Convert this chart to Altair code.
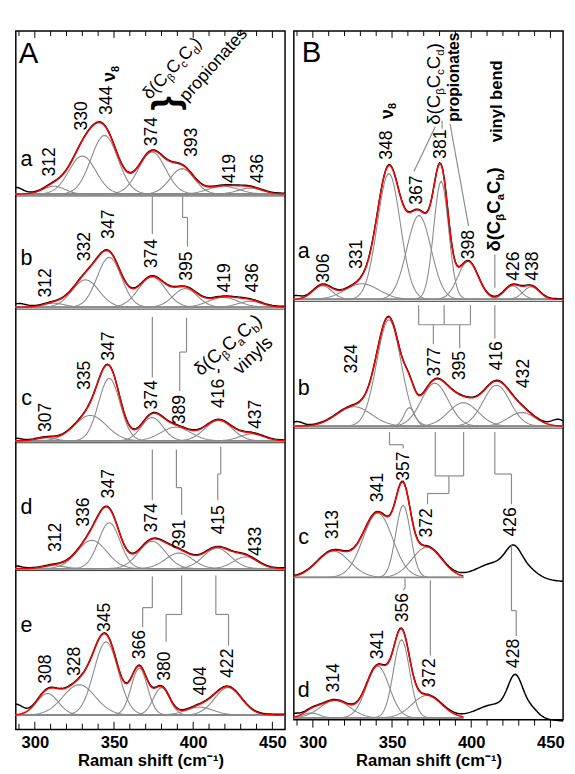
import numpy as np
import pandas as pd
import altair as alt

FONT = "Liberation Sans"
XMIN, XMAX = 288, 458
W = 276
HA, HB = 716, 706
KX = W / (XMAX - XMIN)

MAJOR_TICKS = [300, 350, 400, 450]
MINOR_TICKS = [290, 310, 320, 330, 340, 360, 370, 380, 390, 410, 420, 430, 440]

# ---------------- column A : fitted bands (centre cm-1, height, FWHM) ----------------
A_BASE = {"a": 549, "b": 433, "c": 296, "d": 165, "e": 15}
A_a_bands = [(312, 8, 16), (330, 39, 20), (344, 60, 20), (374, 43, 20), (393, 26, 18), (419, 8, 22), (436, 6, 18)]
A_b_bands = [(312, 4, 16), (332, 28, 20), (347, 51, 18), (374, 31, 20), (395, 19, 18), (419, 10, 22), (436, 6, 18)]
A_c_bands = [(307, 3, 14), (335, 26, 24), (347, 64, 16), (374, 24, 16), (389, 14, 22), (416, 21, 20), (437, 7, 18)]
A_d_bands = [(312, 3, 16), (336, 29, 22), (347, 47, 16), (374, 28, 20), (391, 16, 20), (415, 21, 20), (433, 12, 18)]
A_e_bands = [(308, 22, 16), (328, 31, 24), (345, 75, 18), (366, 48, 12), (380, 28, 12), (404, 8, 20), (422, 28, 20)]
A_a_extra = [(288, 6, 10)]
A_b_extra = [(290, 3, 10)]
A_c_extra = [(288, 2, 8)]
A_d_extra = [(288, 2, 8)]
A_e_extra = [(288, 10, 10)]

# ---------------- column B ----------------
B_BASE = {"a": 431, "b": 301, "c": 146, "d": 2}
B_a_bands = [(306, 14, 14), (331, 16, 25), (348, 129, 17), (367, 86, 18), (381, 121, 11), (398, 39, 15), (426, 14, 12), (438, 13, 12)]
B_b_bands = [(326, 20, 26), (348, 109, 18), (361, 19, 8), (377, 44, 20), (395, 24, 22), (416, 42, 20), (432, 14, 20)]
B_c_bands = [(313, 27, 24), (341, 66, 22), (357, 74, 11), (372, 31, 22)]
B_d_bands = [(299, 5, 12), (314, 18, 22), (341, 53, 17), (356, 80, 12), (372, 23, 22)]
B_a_extra = [(289, 3, 8)]
B_b_extra = [(290, 4, 8), (455, 6, 10)]
B_c_extra = [(415, 14, 26), (427, 24, 12), (437, 6, 12), (462, -5, 30)]
B_d_extra = [(288, 3, 8), (415, 13, 26), (428, 37, 11), (438, 8, 10), (462, -4, 30)]
B_FIT_END = 395

# ---------------- peak labels (text, x, y) ----------------
A_labels = [
    ("312", 309.6, 582), ("330", 329.9, 629), ("344", 345.4, 645), ("374", 374.2, 613),
    ("393", 399.5, 602), ("419", 423.5, 575), ("436", 440.8, 575),
    ("312", 307.1, 458), ("332", 331.7, 495), ("347", 347.1, 518), ("374", 374.2, 488),
    ("395", 396.4, 475), ("419", 420.4, 463), ("436", 437.7, 463),
    ("307", 307.1, 320), ("335", 331.7, 363), ("347", 347.1, 393), ("374", 374.2, 343),
    ("389", 391.5, 328), ("416 -", 416.1, 350), ("437", 439.5, 323),
    ("312", 313.3, 197), ("336", 331.1, 223), ("347", 347.1, 252), ("374", 374.2, 217),
    ("391", 391.5, 200), ("415", 416.1, 215), ("433", 439.5, 193),
    ("308", 307.1, 62), ("328", 325.6, 70), ("345", 344.1, 115), ("366", 366.2, 87),
    ("380", 382.2, 65), ("404", 405.0, 50), ("422", 422.3, 68),
]
B_labels = [
    ("306", 307.1, 463), ("331", 328.0, 477), ("348", 347.1, 589), ("367", 365.6, 543),
    ("381", 381.0, 590), ("398", 398.9, 487), ("426", 427.2, 465), ("438", 438.9, 465),
    ("324", 325.0, 370), ("377", 377.3, 367), ("395", 393.3, 363), ("416", 416.1, 373),
    ("432", 433.4, 355),
    ("313", 312.6, 200), ("341", 341.0, 238), ("357", 357.6, 260), ("372", 372.4, 202),
    ("426", 425.4, 203),
    ("314", 313.3, 43), ("341", 341.0, 77), ("356", 357.0, 115), ("372", 374.2, 48),
    ("428", 427.2, 68),
]
A_letters = [("A", 296.0, 692, 30), ("a", 294.8, 585, 22), ("b", 294.8, 483, 22),
             ("c", 294.8, 340, 22), ("d", 294.8, 228, 22), ("e", 294.8, 107, 22)]
B_letters = [("B", 299.1, 683, 30), ("a", 294.2, 480, 22), ("b", 294.2, 340, 22),
             ("c", 294.2, 187, 22), ("d", 294.2, 30, 22)]

# ---------------- connector polylines ----------------
A_links = [
    [(374.2, 547), (374.2, 508)],
    [(393.3, 547), (393.3, 525), (396.4, 525), (396.4, 495)],
    [(374.2, 423), (374.2, 361)],
    [(395.8, 422), (395.8, 387), (391.5, 387), (391.5, 347)],
    [(374.2, 287), (374.2, 235)],
    [(389.4, 287), (389.4, 248), (392.7, 248), (392.7, 220)],
    [(417.4, 290), (417.4, 262), (415.5, 262), (415.5, 235)],
    [(374.2, 157), (374.2, 125), (368.1, 125), (368.1, 105)],
    [(392.7, 158), (392.7, 118), (382.9, 118), (382.9, 90)],
    [(414.3, 158), (414.3, 118), (422.3, 118), (422.3, 86)],
]
B_links = [
    [(363.8, 562), (377.3, 608)],
    [(381.6, 606), (381.6, 614)],
    [(386.6, 611), (398.3, 506)],
    [(414.9, 477), (414.9, 443)],
    [(366.8, 425), (366.8, 405)], [(382.9, 425), (382.9, 405)], [(399.5, 425), (399.5, 405)],
    [(366.8, 405), (399.5, 405)],
    [(376.1, 405), (376.1, 385)], [(392.7, 405), (392.7, 381)],
    [(414.9, 425), (414.9, 391)],
    [(348.4, 295), (348.4, 282), (357.0, 282), (357.0, 278)],
    [(377.3, 295), (377.3, 250)], [(395.2, 295), (395.2, 250)], [(377.3, 250), (395.2, 250)],
    [(385.9, 250), (385.9, 232), (372.4, 232), (372.4, 221)],
    [(414.9, 295), (414.9, 252), (425.4, 252), (425.4, 221)],
    [(425.4, 179), (425.4, 112), (428.4, 112), (428.4, 86)],
    [(358.2, 145), (358.2, 135), (357.0, 133)],
    [(374.2, 143), (374.2, 66)],
]

# ---------------- helpers ----------------
WN = {"(": 333, ")": 333, "C": 722, "δ": 556, "β": 575, "c": 500, "d": 556, "a": 556, "b": 556,
      " ": 278, "p": 556, "r": 333, "o": 556, "i": 222, "n": 556, "t": 278, "e": 556, "s": 500,
      "v": 500, "y": 500, "l": 222, "ν": 520, "8": 556}
WB = {"(": 333, ")": 333, "C": 722, "δ": 611, "β": 611, "c": 556, "d": 611, "a": 556, "b": 611,
      " ": 278, "p": 611, "r": 389, "o": 611, "i": 278, "n": 611, "t": 333, "e": 556, "s": 556,
      "v": 556, "y": 556, "l": 278, "ν": 556, "8": 556}


def text_width(s, size, bold):
    tbl = WB if bold else WN
    return sum(tbl.get(ch, 556) for ch in s) / 1000.0 * size


def rich(x0, y0, angle, size, parts, bold=False):
    rows, adv = [], 0.0
    th = np.radians(angle)
    for txt, sub in parts:
        fs = size * 0.62 if sub else size
        dy = size * 0.22 if sub else 0.0
        sx = adv * np.cos(th) - dy * np.sin(th)
        sy = adv * np.sin(th) + dy * np.cos(th)
        rows.append({"x": x0 + sx / KX, "y": y0 - sy, "text": txt, "size": fs, "angle": angle})
        adv += text_width(txt, fs, bold)
    return rows


def gauss(xs, c, h, f):
    return h * np.exp(-4.0 * np.log(2.0) * ((xs - c) / f) ** 2)


GRID = np.arange(XMIN, XMAX + 0.001, 1.0)


def spectra_frames(panels):
    comps, fits, obs, base = [], [], [], []
    for name, y0, bands, extra, fit_end in panels:
        xf = GRID[GRID <= fit_end]
        tf = np.zeros_like(xf)
        for i, (c, h, f) in enumerate(bands):
            g = gauss(xf, c, h, f)
            tf += g
            comps.append(pd.DataFrame({"x": xf, "y": np.round(y0 + g, 2), "id": f"{name}{i}"}))
        fits.append(pd.DataFrame({"x": xf, "y": np.round(y0 + tf, 2), "id": name}))
        tot = np.zeros_like(GRID)
        for (c, h, f) in list(bands) + list(extra):
            tot += gauss(GRID, c, h, f)
        obs.append(pd.DataFrame({"x": GRID, "y": np.round(y0 + tot + 0.7, 2), "id": name}))
        base.append({"x": float(XMIN), "x2": float(xf.max()), "y": y0})
    return pd.concat(comps), pd.concat(fits), pd.concat(obs), pd.DataFrame(base)


def segments(links):
    rows = []
    for line in links:
        for (xa, ya), (xb, yb) in zip(line[:-1], line[1:]):
            rows.append({"x": xa, "y": ya, "x2": xb, "y2": yb})
    return pd.DataFrame(rows)


def column(H, panels, labels, letters, rich_n, rich_b, braces, links, seps, label_pad, outward):
    comps, fits, obs, base = spectra_frames(panels)
    xenc = alt.X("x:Q", scale=alt.Scale(domain=[XMIN, XMAX], nice=False, zero=False),
                 axis=alt.Axis(values=MAJOR_TICKS, format="d", ticks=False, domain=False, grid=False,
                               labelPadding=label_pad, title="Raman shift (cm⁻¹)", titlePadding=3))
    yenc = alt.Y("y:Q", scale=alt.Scale(domain=[0, H], nice=False, zero=False), axis=None)
    gray = "#8a8a8a"
    layers = [
        alt.Chart(base).mark_rule(color=gray, strokeWidth=1.5).encode(x=xenc, x2="x2:Q", y=yenc),
        alt.Chart(pd.DataFrame(seps)).mark_rule(color="#333", strokeWidth=1).encode(x=xenc, x2="x2:Q", y=yenc),
        alt.Chart(comps).mark_line(color=gray, strokeWidth=1.1).encode(x=xenc, y=yenc, detail="id:N"),
        alt.Chart(obs).mark_line(color="black", strokeWidth=1.5).encode(x=xenc, y=yenc, detail="id:N"),
        alt.Chart(fits).mark_line(color="#ff0000", strokeWidth=1.5).encode(x=xenc, y=yenc, detail="id:N"),
        alt.Chart(segments(links)).mark_rule(color=gray, strokeWidth=1.2).encode(x=xenc, x2="x2:Q", y=yenc, y2="y2:Q"),
        alt.Chart(pd.DataFrame(labels, columns=["text", "x", "y"])).mark_text(
            font=FONT, fontSize=18, angle=270, align="center", baseline="middle", color="black"
        ).encode(x=xenc, y=yenc, text="text:N"),
        alt.Chart(pd.DataFrame(letters, columns=["text", "x", "y", "size"])).mark_text(
            font=FONT, align="center", baseline="middle", color="black"
        ).encode(x=xenc, y=yenc, text="text:N", size=alt.Size("size:Q", scale=None)),
    ]
    for rows, weight in ((rich_n, "normal"), (rich_b, "bold")):
        if rows:
            layers.append(alt.Chart(pd.DataFrame(rows)).mark_text(
                font=FONT, align="left", baseline="alphabetic", fontWeight=weight, color="black"
            ).encode(x=xenc, y=yenc, text="text:N", size=alt.Size("size:Q", scale=None),
                     angle=alt.Angle("angle:Q", scale=None)))
    if braces:
        layers.append(alt.Chart(pd.DataFrame(braces, columns=["text", "x", "y"])).mark_text(
            font=FONT, fontSize=38, fontWeight="bold", angle=270, align="center", baseline="middle", color="black"
        ).encode(x=xenc, y=yenc, text="text:N"))
    maj = pd.DataFrame({"x": MAJOR_TICKS})
    mnr = pd.DataFrame({"x": MINOR_TICKS})
    layers += [
        alt.Chart(maj).mark_rule(color="black", strokeWidth=1).encode(x=xenc, y=alt.value(0), y2=alt.value(7)),
        alt.Chart(mnr).mark_rule(color="black", strokeWidth=1).encode(x=xenc, y=alt.value(0), y2=alt.value(5)),
    ]
    if outward:
        layers += [
            alt.Chart(maj).mark_rule(color="black", strokeWidth=1).encode(x=xenc, y=alt.value(H), y2=alt.value(H + 8)),
            alt.Chart(mnr).mark_rule(color="black", strokeWidth=1).encode(x=xenc, y=alt.value(H), y2=alt.value(H + 6)),
        ]
    else:
        layers += [
            alt.Chart(maj).mark_rule(color="black", strokeWidth=1).encode(x=xenc, y=alt.value(H), y2=alt.value(H - 8)),
            alt.Chart(mnr).mark_rule(color="black", strokeWidth=1).encode(x=xenc, y=alt.value(H), y2=alt.value(H - 6)),
        ]
    return alt.layer(*layers).properties(width=W, height=H)


A_panels = [
    ("Aa", A_BASE["a"], A_a_bands, A_a_extra, XMAX),
    ("Ab", A_BASE["b"], A_b_bands, A_b_extra, XMAX),
    ("Ac", A_BASE["c"], A_c_bands, A_c_extra, XMAX),
    ("Ad", A_BASE["d"], A_d_bands, A_d_extra, XMAX),
    ("Ae", A_BASE["e"], A_e_bands, A_e_extra, XMAX),
]
B_panels = [
    ("Ba", B_BASE["a"], B_a_bands, B_a_extra, XMAX),
    ("Bb", B_BASE["b"], B_b_bands, B_b_extra, XMAX),
    ("Bc", B_BASE["c"], B_c_bands, B_c_extra, B_FIT_END),
    ("Bd", B_BASE["d"], B_d_bands, B_d_extra, B_FIT_END),
]

A_seps = [{"x": XMIN, "x2": XMAX, "y": A_BASE[p] - 2} for p in ["a", "b", "c", "d"]]
B_seps = [{"x": XMIN, "x2": XMAX, "y": B_BASE[p] - 2} for p in ["a", "b"]]

A_rich_n = (rich(372.5, 645, 313, 18, [("δ(C", 0), ("β", 1), ("C", 0), ("c", 1), ("C", 0), ("d", 1), (")", 0)])
            + rich(396.0, 643, 312, 18, [("propionates", 0)])
            + rich(404.8, 362, 319, 19, [("δ(C", 0), ("β", 1), ("C", 0), ("a", 1), ("C", 0), ("b", 1), (")", 0)])
            + rich(429.5, 363, 317, 19, [("vinyls", 0)]))
A_rich_b = rich(350.5, 664, 270, 18, [("ν", 0), ("8", 1)], bold=True)
A_braces = [("}", 383.5, 642)]

B_rich_n = rich(380.4, 610, 270, 19, [("δ(C", 0), ("β", 1), ("C", 0), ("c", 1), ("C", 0), ("d", 1), (")", 0)])
B_rich_b = (rich(392.1, 613, 270, 16, [("propionates", 0)], bold=True)
            + rich(418.0, 480, 270, 19, [("δ(C", 0), ("β", 1), ("C", 0), ("a", 1), ("C", 0), ("b", 1), (")", 0)], bold=True)
            + rich(419.2, 592, 270, 17, [("vinyl bend", 0)], bold=True)
            + rich(350.3, 616, 270, 18, [("ν", 0), ("8", 1)], bold=True))

colA = column(HA, A_panels, A_labels, A_letters, A_rich_n, A_rich_b, A_braces, A_links, A_seps, 5, False)
colB = column(HB, B_panels, B_labels, B_letters, B_rich_n, B_rich_b, [], B_links, B_seps, 15, True)

chart = alt.hconcat(colA, colB, spacing=9, bounds="flush").properties(
    padding={"left": 4, "top": 6, "right": 0, "bottom": 0}
).configure_view(stroke="black", strokeWidth=1.5).configure_axis(
    labelFont=FONT, titleFont=FONT, labelFontSize=17, labelFontWeight="bold",
    titleFontSize=17, titleFontWeight="bold", labelColor="black", titleColor="black"
)

chart.save("out.html", embed_options={"renderer": "svg", "actions": False})
